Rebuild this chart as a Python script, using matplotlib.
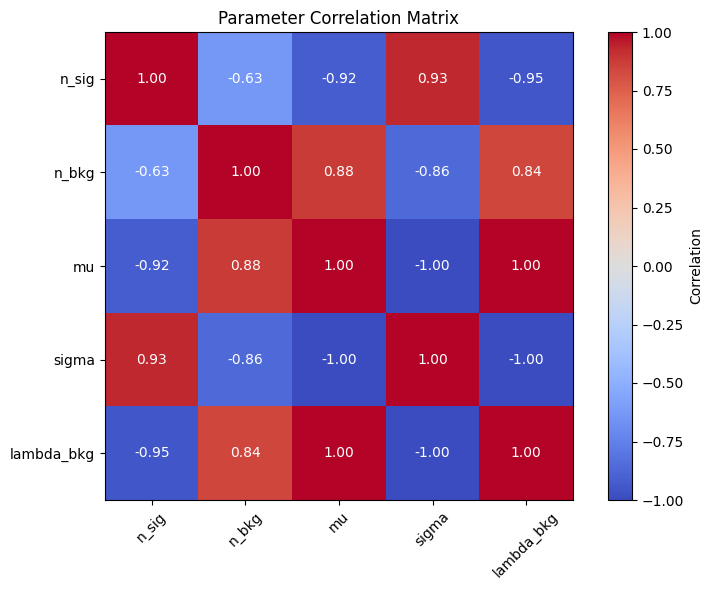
import numpy as np
import matplotlib
matplotlib.use("Agg")
import matplotlib.pyplot as plt

params = ['n_sig', 'n_bkg', 'mu', 'sigma', 'lambda_bkg']
corr = np.array([
    [1.00, -0.63, -0.92, 0.93, -0.95],
    [-0.63, 1.00, 0.88, -0.86, 0.84],
    [-0.92, 0.88, 1.00, -1.00, 1.00],
    [0.93, -0.86, -1.00, 1.00, -1.00],
    [-0.95, 0.84, 1.00, -1.00, 1.00],
])

fig = plt.figure(figsize=(7.13, 5.9), dpi=100)
ax = fig.add_axes([105 / 713, 90 / 590, 468 / 713, 468 / 590])
cax = fig.add_axes([608 / 713, 90 / 590, 24 / 713, 468 / 590])
im = ax.imshow(corr, cmap='coolwarm', vmin=-1, vmax=1)
cbar = fig.colorbar(im, cax=cax)
cbar.set_label('Correlation')

ax.set_xticks(range(len(params)))
ax.set_yticks(range(len(params)))
ax.set_xticklabels(params, rotation=45)
ax.set_yticklabels(params)

for i in range(len(params)):
    for j in range(len(params)):
        ax.text(j, i, f"{corr[i, j]:.2f}", ha='center', va='center', color='white')

ax.set_title('Parameter Correlation Matrix')
plt.savefig('out.png')
